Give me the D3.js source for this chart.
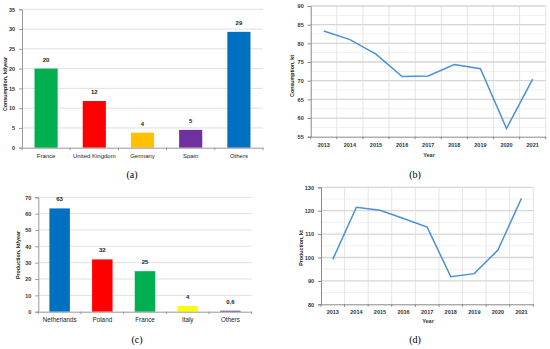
<!DOCTYPE html>
<html><head><meta charset="utf-8">
<script src="https://cdn.jsdelivr.net/npm/d3@7"></script>
<style>body{margin:0;background:#fff}svg{display:block}</style>
</head><body>
<svg id="c" width="550" height="349"></svg>
<script>
// Panel (a)
const consCountries = ["France","United Kingdom","Germany","Spain","Others"];
const consValues = [20, 11.8, 3.8, 4.5, 29.3];
const consLabels = ["20","12","4","5","29"];
const consColors = ["#00b050","#ff0000","#ffc000","#7030a0","#0070c0"];
const consTicks = [0,5,10,15,20,25,30,35];
// Panel (b)
const years = ["2013","2014","2015","2016","2017","2018","2019","2020","2021"];
const consYear = [83.3, 81.0, 77.1, 71.1, 71.25, 74.3, 73.2, 57.2, 70.4];
const consYearTicks = [55,60,65,70,75,80,85,90];
// Panel (c)
const prodCountries = ["Netherlands","Poland","France","Italy","Others"];
const prodValues = [63.2, 32, 24.8, 3.5, 0.6];
const prodLabels = ["63","32","25","4","0,6"];
const prodColors = ["#0070c0","#ff0000","#00b050","#ffff00","#7030a0"];
const prodTicks = [0,10,20,30,40,50,60,70];
// Panel (d)
const prodYear = [99.2, 121.5, 120.2, 116.7, 113.0, 91.8, 93.1, 103.2, 125.3];
const prodYearTicks = [80,90,100,110,120,130];

const svg = d3.select("#c");
const sans = "Liberation Sans, Arial, sans-serif";
const serif = "Liberation Serif, Times New Roman, serif";

function barPanel(o){
  const g = svg.append("g");
  const x = d3.scaleBand().domain(o.cats).range([o.x0,o.x1]).paddingInner(0.52).paddingOuter(0.26);
  const y = d3.scaleLinear().domain([0,o.max]).range([o.yb,o.yt]);
  g.selectAll(".gl").data(o.ticks.filter(t=>t>0)).join("line")
    .attr("x1",o.x0).attr("x2",o.x1).attr("y1",d=>y(d)).attr("y2",d=>y(d))
    .attr("stroke","#e0e0e0").attr("stroke-width",1);
  g.selectAll("rect").data(o.vals).join("rect")
    .attr("x",(d,i)=>x(o.cats[i])).attr("width",x.bandwidth())
    .attr("y",d=>y(d)).attr("height",d=>o.yb-y(d)).attr("fill",(d,i)=>o.colors[i]);
  g.selectAll(".vl").data(o.vals).join("text")
    .attr("x",(d,i)=>x(o.cats[i])+x.bandwidth()/2).attr("y",d=>y(d)-7)
    .attr("text-anchor","middle").attr("font-family",sans).attr("font-size",6).attr("font-weight","bold")
    .attr("fill","#222").text((d,i)=>o.labels[i]);
  const ya = g.append("g").attr("transform",`translate(${o.x0},0)`)
    .call(d3.axisLeft(y).tickValues(o.ticks).tickSize(3).tickFormat(d3.format("d")));
  ya.select(".domain").attr("stroke","#999");
  ya.selectAll(".tick line").attr("stroke","#999");
  ya.selectAll("text").attr("font-family",sans).attr("font-size",5.5).attr("font-weight","bold").attr("fill","#333").attr("dx",-1);
  const xa = g.append("g").attr("transform",`translate(0,${o.yb})`)
    .call(d3.axisBottom(x).tickSize(0).tickPadding(6));
  xa.select(".domain").attr("stroke","#999");
  xa.selectAll("text").attr("font-family",sans).attr("font-size",o.catFs).attr("fill","#222");
  const step = x.step();
  g.selectAll(".bt").data(d3.range(o.cats.length+1)).join("line")
    .attr("x1",i=>o.x0+i*step).attr("x2",i=>o.x0+i*step).attr("y1",o.yb).attr("y2",o.yb+2.5).attr("stroke","#999");
  g.append("text").attr("transform",`translate(${o.tx},${o.ty}) rotate(-90)`)
    .attr("text-anchor","middle").attr("font-family",sans).attr("font-size",5.3).attr("font-weight","bold").attr("fill","#222").text(o.title);
}

function linePanel(o){
  const g = svg.append("g");
  const x = d3.scaleBand().domain(years).range([o.x0,o.x1]);
  const y = d3.scaleLinear().domain([o.min,o.max]).range([o.yb,o.yt]);
  const step = x.step();
  const minor = d3.range(o.min, o.max, (o.ticks[1]-o.ticks[0])/2).filter(v=>!o.ticks.includes(v));
  g.selectAll(".mg").data(minor).join("line")
    .attr("x1",o.x0).attr("x2",o.x1).attr("y1",d=>y(d)).attr("y2",d=>y(d)).attr("stroke","#f0f0f0");
  g.selectAll(".vg").data(d3.range(1,years.length+1)).join("line")
    .attr("x1",i=>o.x0+i*step).attr("x2",i=>o.x0+i*step).attr("y1",o.yt).attr("y2",o.yb).attr("stroke","#e4e4e4");
  g.selectAll(".hg").data(o.ticks.slice(1)).join("line")
    .attr("x1",o.x0).attr("x2",o.x1).attr("y1",d=>y(d)).attr("y2",d=>y(d)).attr("stroke","#d6d6d6").attr("stroke-width",1.3);
  const line = d3.line().x((d,i)=>x(years[i])+step/2).y(d=>y(d));
  g.append("path").datum(o.vals).attr("d",line).attr("fill","none").attr("stroke","#4a90d9").attr("stroke-width",1.5);
  const ya = g.append("g").attr("transform",`translate(${o.x0},0)`)
    .call(d3.axisLeft(y).tickValues(o.ticks).tickSize(3));
  ya.select(".domain").attr("stroke","#888");
  ya.selectAll(".tick line").attr("stroke","#888");
  ya.selectAll("text").attr("font-family",sans).attr("font-size",5.5).attr("font-weight","bold").attr("fill","#333").attr("dx",-1);
  const xa = g.append("g").attr("transform",`translate(0,${o.yb})`)
    .call(d3.axisBottom(x).tickSize(0).tickPadding(6));
  xa.select(".domain").attr("stroke","#888");
  xa.selectAll("text").attr("font-family",sans).attr("font-size",5.5).attr("font-weight","bold").attr("fill","#333");
  g.selectAll(".bt").data(d3.range(years.length+1)).join("line")
    .attr("x1",i=>o.x0+i*step).attr("x2",i=>o.x0+i*step).attr("y1",o.yb).attr("y2",o.yb+2.5).attr("stroke","#888");
  g.append("text").attr("x",o.yx).attr("y",o.yy).attr("text-anchor","middle").attr("font-family",sans)
    .attr("font-size",5.5).attr("font-weight","bold").attr("fill","#333").text("Year");
  g.append("text").attr("transform",`translate(${o.tx},${o.ty}) rotate(-90)`)
    .attr("text-anchor","middle").attr("font-family",sans).attr("font-size",5.3).attr("font-weight","bold").attr("fill","#222").text(o.title);
}

barPanel({cats:consCountries, vals:consValues, labels:consLabels, colors:consColors, ticks:consTicks,
  max:35, x0:22, x1:263, yb:147.7, yt:9.3, catFs:6, title:"Consumption, kt/year", tx:7, ty:84});
linePanel({vals:consYear, ticks:consYearTicks, min:55, max:90, x0:310.7, x1:545.7, yb:136.7, yt:6,
  yx:429, yy:157, title:"Consumption, kt", tx:294, ty:76});
barPanel({cats:prodCountries, vals:prodValues, labels:prodLabels, colors:prodColors, ticks:prodTicks,
  max:70, x0:38.3, x1:251.7, yb:311.7, yt:197.3, catFs:6.3, title:"Production, kt/year", tx:20, ty:255});
linePanel({vals:prodYear, ticks:prodYearTicks, min:80, max:130, x0:321, x1:533.3, yb:304.3, yt:187.3,
  yx:428, yy:323, title:"Production, kt", tx:303, ty:248});

const caps = [["(a)",132,178],["(b)",415,178],["(c)",137,343],["(d)",415,343]];
svg.selectAll(".cap").data(caps).join("text").attr("x",d=>d[1]).attr("y",d=>d[2])
  .attr("text-anchor","middle").attr("font-family",serif).attr("font-size",10).attr("fill","#000").text(d=>d[0]);
</script>
</body></html>
